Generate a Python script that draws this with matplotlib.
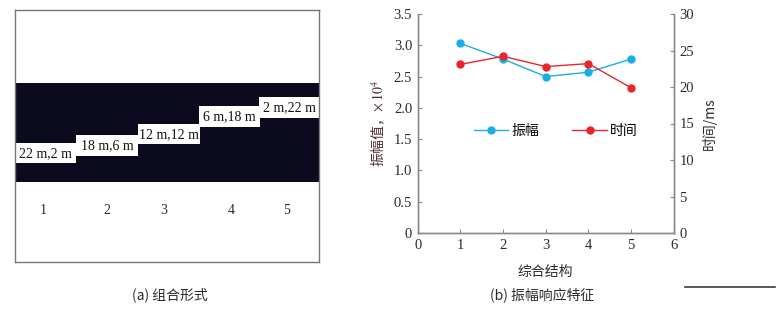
import matplotlib
matplotlib.use("Agg")
import matplotlib.pyplot as plt
from matplotlib.patches import Rectangle
from matplotlib.lines import Line2D

plt.rcParams['font.family'] = ['Noto Sans CJK SC', 'DejaVu Sans']
plt.rcParams['mathtext.fontset'] = 'stix'

# (a) 组合形式 -- schematic, in pixel units of the panel
seg_labels = ['22 m,2 m', '18 m,6 m', '12 m,12 m', '6 m,18 m', '2 m,22 m']
seg_left = [0, 61, 123, 184, 244]
seg_right = [61, 123, 185, 245, 304]
seg_top = [133, 125, 114, 96, 87]
seg_bot = [153, 146, 134, 117, 108]
band_top, band_bot = 73, 172
num_labels = ['1', '2', '3', '4', '5']
num_x = [28, 92, 149, 216, 272]

# (b) 振幅响应特征
struct = [1, 2, 3, 4, 5]
amp = [3.03, 2.78, 2.50, 2.57, 2.78]
tim = [23.1, 24.2, 22.8, 23.2, 19.9]

serif = ['Liberation Serif', 'DejaVu Serif']
txt_c = '#2b2b2b'
spine_c = '#8a8a8a'

fig = plt.figure(figsize=(7.82, 3.11), dpi=100)

# ---------------- panel (a) ----------------
axa = fig.add_axes([15 / 782, 1 - 262 / 311, 304 / 782, 252 / 311])
axa.set_xlim(0, 304)
axa.set_ylim(252, 0)
axa.set_xticks([])
axa.set_yticks([])
for s in axa.spines.values():
    s.set_color('#777777')
    s.set_linewidth(1.0)
axa.add_patch(Rectangle((0, band_top), 304, band_bot - band_top, color='#0b0a1e', lw=0))
for lab, l, r, t, b in zip(seg_labels, seg_left, seg_right, seg_top, seg_bot):
    axa.add_patch(Rectangle((l, t), r - l, b - t, color='white', lw=0))
    axa.text((l + r) / 2, (t + b) / 2 + 0.5, lab, ha='center', va='center',
             fontsize=10, family=serif, color='#111111')
for n, x in zip(num_labels, num_x):
    axa.text(x, 200, n, ha='center', va='center', fontsize=10, family=serif, color=txt_c)

fig.text(170 / 782, 1 - 295 / 311, '(a) 组合形式', ha='center', va='center',
         fontsize=10, color=txt_c)

# ---------------- panel (b) ----------------
axb = fig.add_axes([417.7 / 782, 1 - 233 / 311, 256 / 782, 219 / 311])
axb2 = axb.twinx()
l1, = axb.plot(struct, amp, '-o', color='#1aaee8', lw=1.0, ms=5, label='振幅')
l2, = axb2.plot(struct, tim, '-o', color='#e8262b', lw=1.0, ms=5, label='时间')

axb.set_xlim(0, 6)
axb.set_ylim(0, 3.5)
axb2.set_ylim(0, 30)
axb.set_xticks(range(0, 7))
axb.set_yticks([0, 0.5, 1.0, 1.5, 2.0, 2.5, 3.0, 3.5])
axb.set_yticklabels(['0', '0.5', '1.0', '1.5', '2.0', '2.5', '3.0', '3.5'])
axb2.set_yticks([0, 5, 10, 15, 20, 25, 30])

for ax in (axb, axb2):
    ax.spines['top'].set_visible(False)
    for s in ('left', 'right', 'bottom'):
        ax.spines[s].set_color(spine_c)
        ax.spines[s].set_linewidth(1.0)
    ax.tick_params(direction='in', length=3, width=0.8, colors=spine_c,
                   labelcolor=txt_c, labelsize=10.5, pad=4)
    for lab in ax.get_xticklabels() + ax.get_yticklabels():
        lab.set_family(serif)

axb.set_xlabel('综合结构', fontsize=10, color=txt_c, labelpad=10)
axb.set_ylabel('振幅值，$\\times\\,10^4$', fontsize=10, color='#4d2b2b', labelpad=5)
axb2.set_ylabel('时间/ms', fontsize=10, color=txt_c, labelpad=6, rotation=90)
axb2.yaxis.label.set_va('top')

axb2.legend(handles=[l1, l2], loc='center left', bbox_to_anchor=(0.17, 0.466),
            ncol=2, frameon=False, fontsize=10, handlelength=2.5,
            columnspacing=2.4, handletextpad=0.2)

fig.text(542 / 782, 1 - 295 / 311, '(b) 振幅响应特征', ha='center', va='center',
         fontsize=10, color=txt_c)

fig.add_artist(Line2D([685 / 782, 775 / 782], [1 - 287 / 311, 1 - 287 / 311],
                      transform=fig.transFigure, color='#3a3a3a', lw=1.2))

fig.savefig('out.png', dpi=100)
